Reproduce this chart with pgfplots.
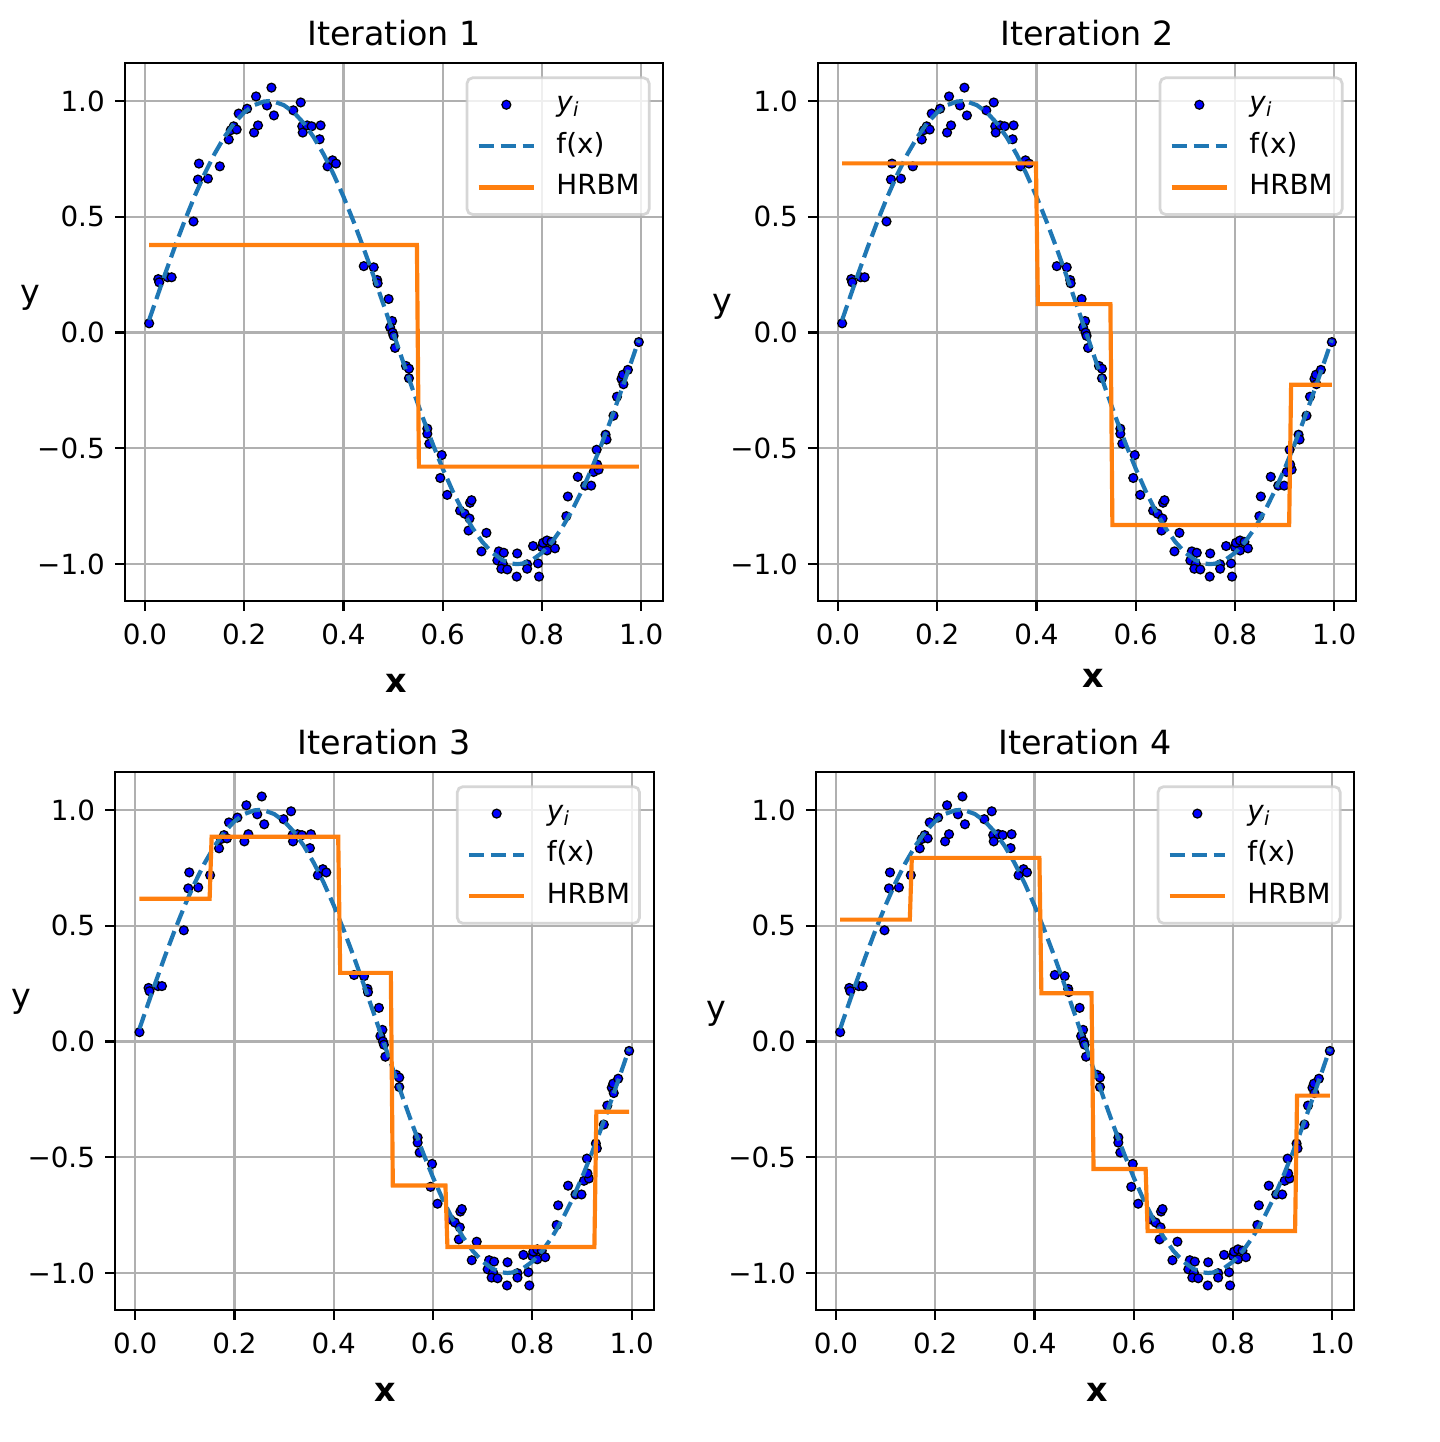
\documentclass[border=0pt]{standalone}
\usepackage{fontspec}
\setmainfont{DejaVu Sans}
\usepackage{pgfplots}
\usepackage{pgfplotstable}
\pgfplotsset{compat=1.18}
\definecolor{cblue}{HTML}{1F77B4}
\definecolor{corange}{HTML}{FF7F0E}
\definecolor{gridgray}{HTML}{B0B0B0}
\definecolor{legframe}{HTML}{CCCCCC}

\pgfplotstableread{
x y
0.0087 0.040
0.027 0.231
0.029 0.217
0.046 0.239
0.054 0.239
0.098 0.480
0.107 0.661
0.109 0.730
0.127 0.665
0.151 0.718
0.169 0.834
0.173 0.874
0.179 0.891
0.185 0.877
0.189 0.946
0.206 0.967
0.220 0.864
0.228 0.895
0.224 1.020
0.246 0.981
0.255 1.058
0.260 0.938
0.299 0.960
0.314 0.994
0.317 0.891
0.318 0.864
0.327 0.895
0.336 0.891
0.354 0.895
0.352 0.835
0.368 0.718
0.378 0.744
0.385 0.730
0.441 0.287
0.461 0.282
0.468 0.227
0.469 0.213
0.491 0.145
0.498 0.050
0.494 0.023
0.499 0.000
0.501 -0.014
0.504 -0.066
0.526 -0.144
0.532 -0.156
0.532 -0.197
0.569 -0.415
0.569 -0.437
0.573 -0.480
0.598 -0.529
0.595 -0.628
0.609 -0.701
0.635 -0.769
0.644 -0.782
0.654 -0.803
0.655 -0.735
0.658 -0.724
0.652 -0.855
0.688 -0.865
0.678 -0.945
0.713 -0.945
0.723 -0.951
0.710 -0.984
0.721 -0.998
0.718 -1.020
0.730 -1.023
0.749 -1.054
0.750 -0.954
0.770 -1.001
0.770 -1.020
0.782 -0.922
0.792 -0.997
0.794 -1.054
0.800 -0.927
0.802 -0.908
0.810 -0.898
0.819 -0.904
0.810 -0.941
0.826 -0.932
0.849 -0.793
0.852 -0.708
0.872 -0.623
0.887 -0.661
0.899 -0.661
0.904 -0.602
0.914 -0.592
0.911 -0.570
0.910 -0.506
0.928 -0.441
0.930 -0.462
0.944 -0.359
0.951 -0.277
0.960 -0.200
0.964 -0.223
0.963 -0.182
0.973 -0.161
0.995 -0.041
}\pts

\pgfplotstableread{
x y
0.0087 0.0546
0.02 0.1253
0.04 0.2487
0.06 0.3681
0.08 0.4818
0.10 0.5878
0.12 0.6845
0.14 0.7705
0.16 0.8443
0.18 0.9048
0.20 0.9511
0.22 0.9823
0.24 0.9980
0.25 1.0000
0.26 0.9980
0.28 0.9823
0.30 0.9511
0.32 0.9048
0.34 0.8443
0.36 0.7705
0.38 0.6845
0.40 0.5878
0.42 0.4818
0.44 0.3681
0.46 0.2487
0.48 0.1253
0.50 0.0000
0.52 -0.1253
0.54 -0.2487
0.56 -0.3681
0.58 -0.4818
0.60 -0.5878
0.62 -0.6845
0.64 -0.7705
0.66 -0.8443
0.68 -0.9048
0.70 -0.9511
0.72 -0.9823
0.74 -0.9980
0.75 -1.0000
0.76 -0.9980
0.78 -0.9823
0.80 -0.9511
0.82 -0.9048
0.84 -0.8443
0.86 -0.7705
0.88 -0.6845
0.90 -0.5878
0.92 -0.4818
0.94 -0.3681
0.96 -0.2487
0.98 -0.1253
0.995 -0.0314
}\fx

\pgfplotstableread{
x y
0.0087 0.378
0.548 0.378
0.552 -0.579
0.995 -0.579
}\hA

\pgfplotstableread{
x y
0.0087 0.731
0.399 0.731
0.403 0.123
0.549 0.123
0.553 -0.831
0.909 -0.831
0.913 -0.225
0.995 -0.225
}\hB

\pgfplotstableread{
x y
0.0087 0.616
0.150 0.616
0.154 0.884
0.409 0.884
0.413 0.296
0.515 0.296
0.519 -0.622
0.625 -0.622
0.629 -0.888
0.925 -0.888
0.929 -0.304
0.995 -0.304
}\hC

\pgfplotstableread{
x y
0.0087 0.526
0.149 0.526
0.153 0.793
0.410 0.793
0.414 0.208
0.515 0.208
0.519 -0.551
0.624 -0.551
0.628 -0.819
0.925 -0.819
0.929 -0.234
0.995 -0.234
}\hD

\pgfplotsset{
  panel/.style={
    width=193.9bp, height=193.7bp, scale only axis,
    xmin=-0.0406, xmax=1.0443, ymin=-1.16, ymax=1.164,
    xtick={0,0.2,0.4,0.6,0.8,1.0}, xticklabels={0.0,0.2,0.4,0.6,0.8,1.0},
    ytick={-1,-0.5,0,0.5,1}, yticklabels={−1.0,−0.5,0.0,0.5,1.0},
    grid=major, major grid style={draw=gridgray, line width=0.8bp},
    axis line style={line width=0.8bp},
    tick align=outside, major tick length=3.5bp,
    tick style={line width=0.8bp, black},
    xtick pos=bottom, ytick pos=left,
    ticklabel style={font=\fontsize{10bp}{12bp}\selectfont, inner sep=0pt},
    xticklabel style={yshift=-4.5bp},
    yticklabel style={xshift=-3.5bp},
    title style={font=\fontsize{12bp}{14bp}\selectfont, at={(0.5,1)}, anchor=base, yshift=0.2bp},
    clip mode=individual,
    legend cell align=left,
    legend style={at={(1,1)}, anchor=north east, xshift=-4.6bp, yshift=-4.8bp,
      font=\fontsize{10bp}{12bp}\selectfont,
      draw=legframe, line width=1bp, rounded corners=2bp,
      fill=white, fill opacity=0.8, draw opacity=0.8, text opacity=1,
      inner xsep=3.4bp, inner ysep=2.25bp,
      /tikz/column sep=7.3bp, /tikz/row sep=0pt,
      nodes={inner xsep=0pt, inner ysep=2.45bp, text height=7.5bp, text depth=2.5bp}},
    legend image code/.code={\draw[mark repeat=2,mark phase=2,#1] plot coordinates {(0bp,0bp) (10bp,0bp) (20bp,0bp)};},
    legend image post style={opacity=1, rounded corners=0pt},
  },
  ptsstyle/.style={only marks, mark=*, mark size=1.6bp, mark options={fill=blue, draw=black, line width=0.45bp}},
  fxstyle/.style={cblue, line width=1.5bp, dash pattern=on 5.55bp off 2.4bp},
  hstyle/.style={corange, line width=1.5bp},
}

\newcommand{\ylab}{\fontsize{12bp}{14bp}\selectfont}
\newcommand{\xlab}{\fontsize{12bp}{14bp}\selectfont\bfseries}

\begin{document}
\begin{tikzpicture}
% Panel 1
\begin{axis}[panel, at={(44.89bp,302.7bp)}, anchor=south west, title={Iteration 1}]
\addplot[ptsstyle] table[x=x,y=y]{\pts};
\addplot[fxstyle] table[x=x,y=y]{\fx};
\addplot[hstyle] table[x=x,y=y]{\hA};
\legend{\textit{y}\textsubscript{\textit{i}}, f(x), HRBM}
\node[font=\ylab, anchor=base] at (rel axis cs:-0.1745,0.553) {y};
\node[font=\xlab, anchor=base, yshift=-33bp] at (rel axis cs:0.504,0) {x};
\end{axis}
% Panel 2
\begin{axis}[panel, at={(294.37bp,302.7bp)}, anchor=south west, title={Iteration 2}]
\addplot[ptsstyle] table[x=x,y=y]{\pts};
\addplot[fxstyle] table[x=x,y=y]{\fx};
\addplot[hstyle] table[x=x,y=y]{\hB};
\legend{\textit{y}\textsubscript{\textit{i}}, f(x), HRBM}
\node[font=\ylab, anchor=base] at (rel axis cs:-0.177,0.537) {y};
\node[font=\xlab, anchor=base, yshift=-31.1bp] at (rel axis cs:0.511,0) {x};
\end{axis}
% Panel 3
\begin{axis}[panel, at={(41.4bp,47.52bp)}, anchor=south west, title={Iteration 3}]
\addplot[ptsstyle] table[x=x,y=y]{\pts};
\addplot[fxstyle] table[x=x,y=y]{\fx};
\addplot[hstyle] table[x=x,y=y]{\hC};
\legend{\textit{y}\textsubscript{\textit{i}}, f(x), HRBM}
\node[font=\ylab, anchor=base] at (rel axis cs:-0.173,0.562) {y};
\node[font=\xlab, anchor=base, yshift=-32.8bp] at (rel axis cs:0.501,0) {x};
\end{axis}
% Panel 4
\begin{axis}[panel, at={(293.65bp,47.52bp)}, anchor=south west, title={Iteration 4}]
\addplot[ptsstyle] table[x=x,y=y]{\pts};
\addplot[fxstyle] table[x=x,y=y]{\fx};
\addplot[hstyle] table[x=x,y=y]{\hD};
\legend{\textit{y}\textsubscript{\textit{i}}, f(x), HRBM}
\node[font=\ylab, anchor=base] at (rel axis cs:-0.185,0.54) {y};
\node[font=\xlab, anchor=base, yshift=-32.8bp] at (rel axis cs:0.522,0) {x};
\end{axis}
\pgfresetboundingbox
\path[use as bounding box] (0bp,0bp) rectangle (518.4bp,519.12bp);
\end{tikzpicture}
\end{document}
